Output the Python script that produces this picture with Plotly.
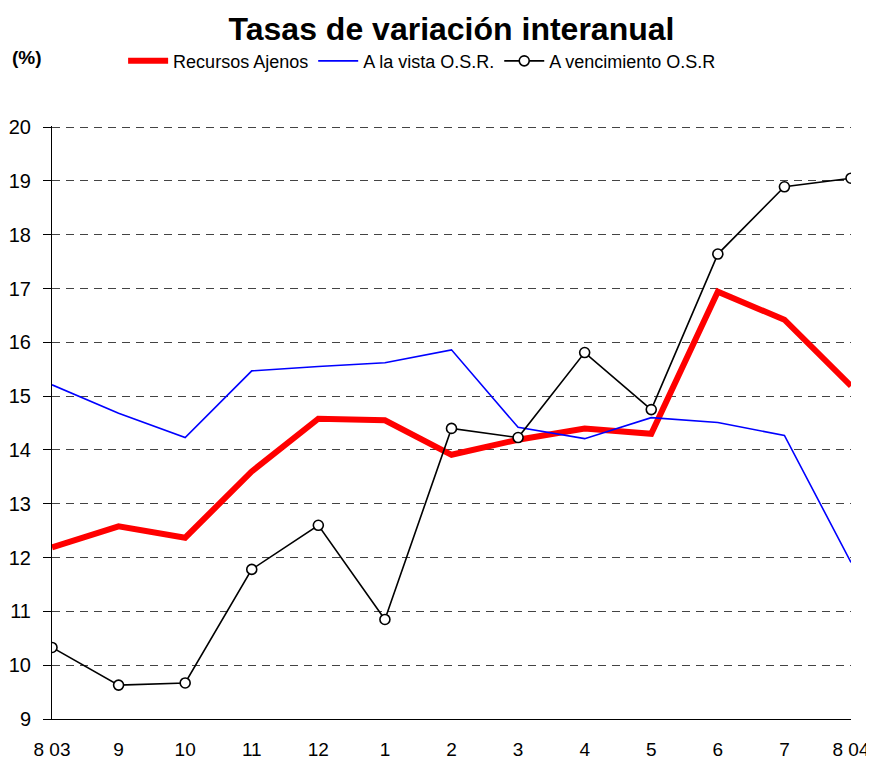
import plotly.graph_objects as go

categories = ["8 03", "9", "10", "11", "12", "1", "2", "3", "4", "5", "6", "7", "8 04"]
recursos_ajenos = [12.19, 12.58, 12.37, 13.60, 14.58, 14.55, 13.91, 14.19, 14.40, 14.30, 16.94, 16.42, 15.19]
a_la_vista = [15.21, 14.68, 14.23, 15.47, 15.55, 15.62, 15.86, 14.42, 14.21, 14.60, 14.51, 14.27, 11.91]
a_vencimiento = [10.33, 9.63, 9.67, 11.78, 12.60, 10.85, 14.40, 14.23, 15.81, 14.75, 17.64, 18.89, 19.05]
y_ticks = list(range(9, 21))

xpos = list(range(len(categories)))
FONT = "Liberation Sans Narrow, Arial Narrow, Liberation Sans, Arial, sans-serif"
BFONT = "Liberation Sans, Arial, sans-serif"

fig = go.Figure()
fig.add_trace(go.Scatter(x=xpos, y=recursos_ajenos, mode="lines", name="Recursos Ajenos",
                         line=dict(color="#ff0000", width=6)))
fig.add_trace(go.Scatter(x=xpos, y=a_la_vista, mode="lines", name="A la vista O.S.R.",
                         line=dict(color="#0000ff", width=1.6)))
fig.add_trace(go.Scatter(x=xpos, y=a_vencimiento, mode="lines+markers", name="A vencimiento O.S.R",
                         line=dict(color="#000000", width=1.6),
                         marker=dict(symbol="circle", size=10, color="white",
                                     line=dict(color="black", width=1.6))))

# the page body has an 8px margin, so the figure is 866x759 and fills the 874x767 window
fig.update_layout(
    template="none",
    width=866, height=759,
    paper_bgcolor="white", plot_bgcolor="white",
    margin=dict(l=44, r=23, t=118, b=48, autoexpand=False),
    font=dict(family=FONT, size=19, color="black"),
    title=dict(text="<b>Tasas de variación interanual</b>", x=0.5, xref="paper", xanchor="center",
               y=0.9725, yref="container", yanchor="middle",
               font=dict(family=BFONT, size=32, color="black")),
    legend=dict(orientation="h", x=0.089, xref="paper", y=0.930, yref="container", yanchor="middle",
                xanchor="left", bgcolor="rgba(0,0,0,0)",
                font=dict(family=FONT, size=18, color="black"), itemwidth=40, tracegroupgap=0),
    showlegend=True,
)
fig.add_annotation(text="<b>(%)</b>", xref="paper", yref="paper", x=-0.031, y=1.115,
                   xanchor="center", yanchor="middle", showarrow=False,
                   font=dict(family=BFONT, size=19, color="black"))

fig.update_xaxes(
    range=[0, len(categories) - 1], tickmode="array", tickvals=xpos, ticktext=categories,
    showgrid=False, zeroline=False, showline=True, linecolor="black", linewidth=1,
    ticks="", ticklabelstandoff=13, tickfont=dict(family=FONT, size=19), automargin=False,
)
fig.update_yaxes(
    range=[9, 20.02], tickmode="array", tickvals=y_ticks, ticktext=[str(v) for v in y_ticks],
    showgrid=True, gridcolor="#444444", gridwidth=1, griddash="8px,6px",
    zeroline=False, showline=True, linecolor="black", linewidth=1,
    ticks="outside", ticklen=8, tickcolor="black", ticklabelstandoff=8,
    tickfont=dict(family=FONT, size=20), automargin=False,
)

fig.write_html("out.html")
